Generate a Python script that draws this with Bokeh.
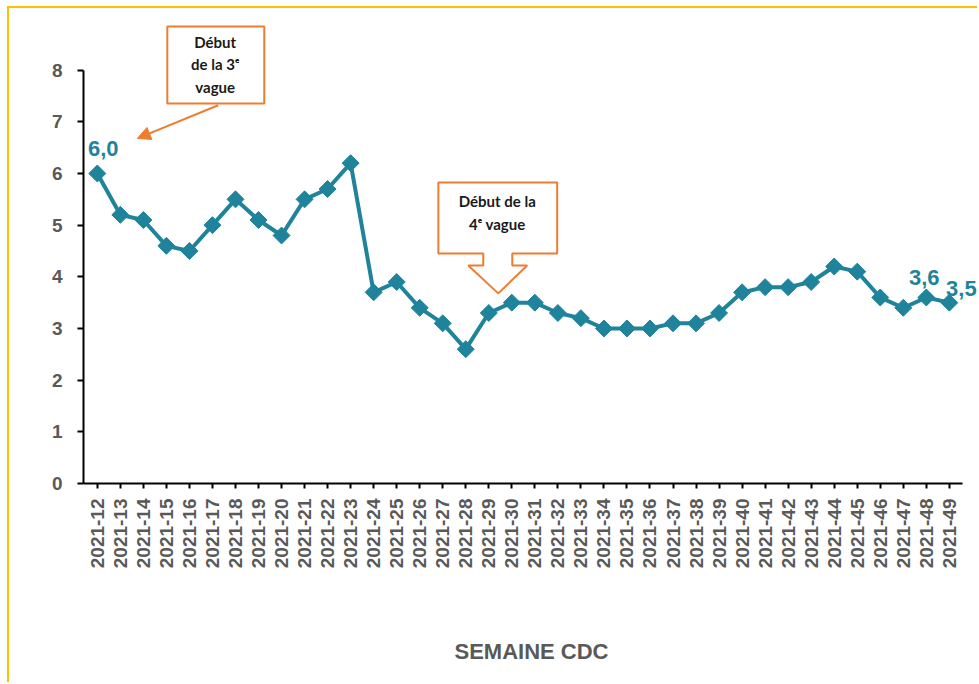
import numpy as np
from bokeh.plotting import figure
from bokeh.models import Range1d, FixedTicker, Label, Arrow, NormalHead
from bokeh.core.properties import value
from bokeh.embed import file_html
from bokeh.resources import INLINE

# ---------------- data ----------------
weeks = ["2021-12", "2021-13", "2021-14", "2021-15", "2021-16", "2021-17",
         "2021-18", "2021-19", "2021-20", "2021-21", "2021-22", "2021-23",
         "2021-24", "2021-25", "2021-26", "2021-27", "2021-28", "2021-29",
         "2021-30", "2021-31", "2021-32", "2021-33", "2021-34", "2021-35",
         "2021-36", "2021-37", "2021-38", "2021-39", "2021-40", "2021-41",
         "2021-42", "2021-43", "2021-44", "2021-45", "2021-46", "2021-47",
         "2021-48", "2021-49"]
rates = [6.0, 5.2, 5.1, 4.6, 4.5, 5.0, 5.5, 5.1, 4.8, 5.5, 5.7, 6.2,
         3.7, 3.9, 3.4, 3.1, 2.6, 3.3, 3.5, 3.5, 3.3, 3.2, 3.0, 3.0,
         3.0, 3.1, 3.1, 3.3, 3.7, 3.8, 3.8, 3.9, 4.2, 4.1, 3.6, 3.4,
         3.6, 3.5]
y_ticks = [0, 1, 2, 3, 4, 5, 6, 7, 8]
labeled_weeks = ["2021-12", "2021-48", "2021-49"]
x_title = "SEMAINE CDC"
note_3 = "Début\nde la 3ᵉ\nvague"
note_4 = "Début de la\n4ᵉ vague"

TEAL = "#1F849B"
ORANGE = "#ED7D31"
GREY = "#595959"
YELLOW = "#FFC000"

xs = list(range(len(weeks)))

p = figure(width=970, height=676, output_backend="svg", toolbar_location=None,
           x_range=Range1d(-0.6, 38.31), y_range=Range1d(0, 9.0),
           min_border_left=74, min_border_right=0, min_border_top=10,
           min_border_bottom=201)
p.styles = {"margin-left": "7px", "margin-top": "6px",
            "border-left": f"2px solid {YELLOW}", "border-top": f"2px solid {YELLOW}"}
p.outline_line_color = None
p.xgrid.grid_line_color = None
p.ygrid.grid_line_color = None
p.background_fill_color = "white"
p.border_fill_color = "white"

# y axis
p.yaxis.ticker = FixedTicker(ticks=y_ticks)
p.yaxis.bounds = (0, 8)
p.yaxis.axis_line_width = 2
p.yaxis.axis_line_color = "black"
p.yaxis.major_tick_line_width = 2
p.yaxis.major_tick_line_color = "black"
p.yaxis.major_tick_out = 6
p.yaxis.major_tick_in = 0
p.yaxis.minor_tick_line_color = None
p.yaxis.major_label_text_font = "Liberation Sans"
p.yaxis.major_label_text_font_size = "19px"
p.yaxis.major_label_text_font_style = "bold"
p.yaxis.major_label_text_color = GREY
p.yaxis.major_label_standoff = 15

# x axis
p.xaxis.ticker = FixedTicker(ticks=xs)
p.xaxis.major_label_overrides = {i: w for i, w in zip(xs, weeks)}
p.xaxis.bounds = (-0.6, 37.57)
p.xaxis.major_label_orientation = np.pi / 2
p.xaxis.axis_line_width = 2
p.xaxis.axis_line_color = "black"
p.xaxis.major_tick_line_width = 2
p.xaxis.major_tick_line_color = "black"
p.xaxis.major_tick_out = 5
p.xaxis.major_tick_in = 0
p.xaxis.minor_tick_line_color = None
p.xaxis.major_label_text_font = "Liberation Sans"
p.xaxis.major_label_text_font_size = "19px"
p.xaxis.major_label_text_font_style = "bold"
p.xaxis.major_label_text_color = GREY
p.xaxis.major_label_standoff = 10
p.xaxis.axis_label = x_title
p.xaxis.axis_label_text_font = "Liberation Sans"
p.xaxis.axis_label_text_font_size = "22px"
p.xaxis.axis_label_text_font_style = "bold"
p.xaxis.axis_label_text_color = GREY
p.xaxis.axis_label_standoff = 68

# series
p.line(xs, rates, line_width=4, color=TEAL)
p.scatter(xs, rates, marker="square", angle=np.pi / 4, size=12,
          color=TEAL, line_width=1)

# data labels
offsets = {"2021-12": (6, 25), "2021-48": (-2, 20), "2021-49": (12, 14)}
for wk in labeled_weeks:
    i = weeks.index(wk)
    dx, dy = offsets[wk]
    p.add_layout(Label(x=i, y=rates[i], text=f"{rates[i]:.1f}".replace(".", ","),
                       x_offset=dx, y_offset=dy, text_align="center",
                       text_baseline="alphabetic", text_color=TEAL,
                       text_font="Liberation Sans", text_font_style="bold",
                       text_font_size="22px"))

# annotation 1: box + arrow
p.quad(left=[3.04], right=[7.25], top=[8.845], bottom=[7.355],
       fill_color="white", line_color=ORANGE, line_width=2)
p.text(x=[5.12], y=[8.11], text=[note_3], text_align="center",
       text_baseline="middle", text_font=value("Lato"),
       text_font_style="bold", text_font_size="15px", text_color="#1a1a1a",
       text_line_height=1.27)
p.add_layout(Arrow(x_start=5.25, y_start=7.32, x_end=1.74, y_end=6.68,
                   line_color=ORANGE, line_width=2,
                   end=NormalHead(size=13, fill_color=ORANGE, line_color=ORANGE)))

# annotation 2: callout with down arrow
cx = [14.81, 19.97, 19.97, 18.02, 18.02, 18.67, 17.41, 16.11, 16.76, 16.76, 14.81]
cy = [5.825, 5.825, 4.45, 4.45, 4.22, 4.22, 3.68, 4.22, 4.22, 4.45, 4.45]
p.patch(cx, cy, fill_color="white", line_color=ORANGE, line_width=2)
p.text(x=[17.37], y=[5.245], text=[note_4], text_align="center",
       text_baseline="middle", text_font=value("Lato"),
       text_font_style="bold", text_font_size="15px", text_color="#1a1a1a",
       text_line_height=1.33)

open("out.html", "w").write(file_html(p, INLINE))
